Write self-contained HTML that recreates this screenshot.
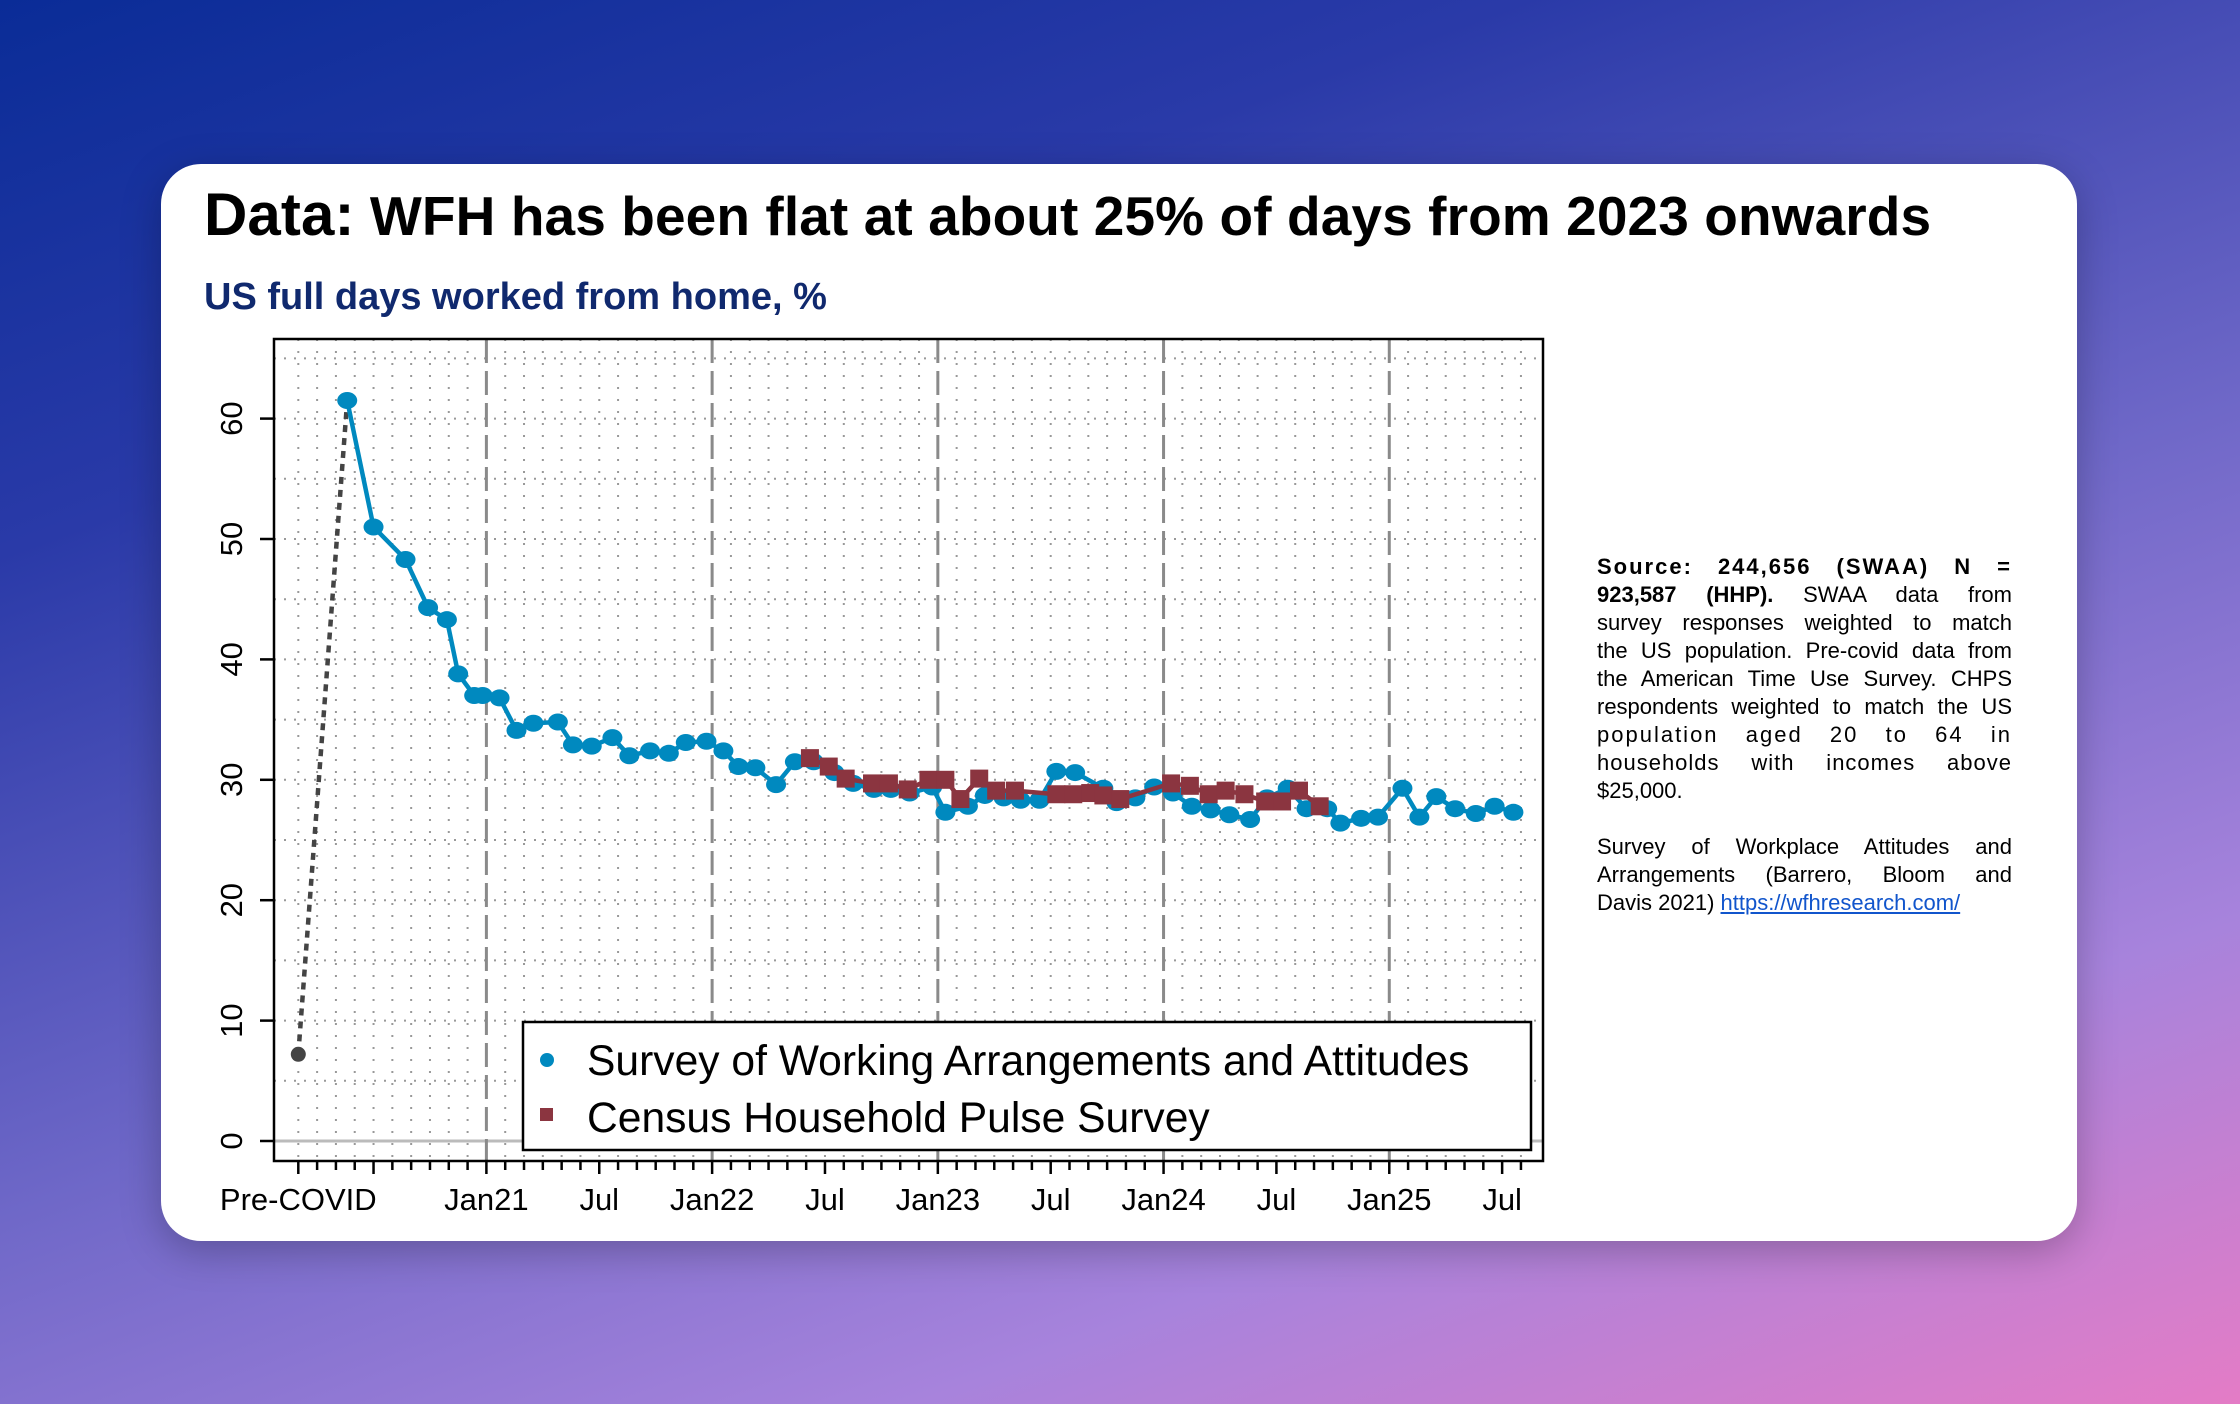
<!DOCTYPE html>
<html><head><meta charset="utf-8">
<style>
html,body{margin:0;padding:0;width:2240px;height:1404px;overflow:hidden;font-family:"Liberation Sans",Arial,sans-serif;}
body{background:linear-gradient(160deg,#0a2c97 0%,#2a3aa8 25%,#6f68c8 55%,#a783dc 78%,#e47cc6 100%);position:relative;}
#card{position:absolute;left:161px;top:164px;width:1916px;height:1077px;background:#fff;border-radius:40px;box-shadow:0 10px 40px rgba(0,0,0,0.25);}
#title{position:absolute;left:204px;top:180px;font-size:55px;font-weight:bold;color:#000;white-space:nowrap;letter-spacing:0.1px;}
#title .lead{font-size:60px;}
#subtitle{position:absolute;left:204px;top:276px;font-size:38px;font-weight:bold;color:#10296e;white-space:nowrap;}
#note{position:absolute;left:1597px;top:553px;width:415px;font-size:22px;line-height:28px;color:#000;}
#note div{text-align:justify;text-align-last:justify;white-space:nowrap;}
#note div.last{text-align-last:left;}
#note a{color:#1155cc;text-decoration:underline;}
svg{position:absolute;left:0;top:0;}
</style></head>
<body>
<div id="card"></div>
<div id="title"><span class="lead">Data:</span> WFH has been flat at about 25% of days from 2023 onwards</div>
<div id="subtitle">US full days worked from home, %</div>
<div id="note">
<div style="font-weight:bold;letter-spacing:2px;">Source: 244,656 (SWAA) N =</div>
<div><b>923,587 (HHP).</b> SWAA data from</div>
<div>survey responses weighted to match</div>
<div>the US population. Pre-covid data from</div>
<div>the American Time Use Survey. CHPS</div>
<div>respondents weighted to match the US</div>
<div style="letter-spacing:2px;">population aged 20 to 64 in</div>
<div style="letter-spacing:1px;">households with incomes above</div>
<div class="last">$25,000.</div>
<div class="last">&nbsp;</div>
<div>Survey of Workplace Attitudes and</div>
<div>Arrangements (Barrero, Bloom and</div>
<div class="last">Davis 2021) <a href="#">https://wfhresearch.com/</a></div>
</div>
<svg id="chart" width="2240" height="1404" viewBox="0 0 2240 1404"></svg>
<script>
// months since Jan 2020 (Jan21 = 12)
const preCovidMonth = [2];
const preCovidValue = [7.2];
const swaaMonths = [4.6,6.0,7.7,8.9,9.9,10.5,11.35,11.8,12.7,13.6,14.5,15.8,16.6,17.6,18.7,19.6,20.7,21.7,22.6,23.7,24.6,25.4,26.3,27.4,28.4,29.4,30.5,31.5,32.6,33.5,34.5,35.7,36.4,37.6,38.5,39.5,40.4,41.4,42.3,43.3,44.8,45.5,46.5,47.5,48.5,49.5,50.5,51.5,52.6,53.5,54.6,55.6,56.7,57.4,58.5,59.4,60.7,61.6,62.5,63.5,64.6,65.6,66.6];
const swaaValues = [61.5,51,48.3,44.3,43.3,38.8,37,37,36.8,34.1,34.7,34.8,32.9,32.8,33.5,32,32.4,32.2,33.1,33.2,32.4,31.1,31,29.6,31.5,31.5,30.6,29.7,29.2,29.2,28.9,29.4,27.3,27.8,28.7,28.5,28.3,28.3,30.7,30.6,29.3,28.1,28.5,29.4,28.9,27.8,27.5,27.1,26.7,28.5,29.3,27.6,27.6,26.4,26.8,26.9,29.3,26.9,28.6,27.6,27.2,27.8,27.3];
const hhpMonths = [29.2,30.2,31.1,32.5,33.4,34.4,35.5,36.4,37.2,38.2,39.1,40.1,42.3,43.2,44.1,44.8,45.7,48.4,49.4,50.4,51.3,52.3,53.4,54.3,55.2,56.3];
const hhpValues = [31.8,31.1,30.1,29.7,29.7,29.2,30.0,30.0,28.4,30.1,29.1,29.1,28.8,28.8,28.9,28.7,28.4,29.7,29.5,28.8,29.1,28.8,28.2,28.2,29.1,27.8];
const yTicks = [0,10,20,30,40,50,60];
const xLabelMonths = [2,12,18,24,30,36,42,48,54,60,66];
const xLabels = ["Pre-COVID","Jan21","Jul","Jan22","Jul","Jan23","Jul","Jan24","Jul","Jan25","Jul"];

const NS = "http://www.w3.org/2000/svg";
const svg = document.getElementById('chart');
const PL=274, PR=1543, PT=339, PB=1161;
const X = m => 486.4 + (m-12)*18.81;
const Y = v => 1141 - v*12.04;
function mk(tag, attrs, parent){const e=document.createElementNS(NS,tag);for(const k in attrs)e.setAttribute(k,attrs[k]);(parent||svg).appendChild(e);return e;}

const grid = mk('g',{});


for(let m=2;m<=67;m++){
  if(m%12===0) continue;
  mk('line',{x1:X(m),x2:X(m),y1:PT,y2:PB,stroke:'#999','stroke-width':2,'stroke-dasharray':'2 10'},grid);
}
for(let v=5;v<=65;v+=5){
  mk('line',{x1:PL,x2:PR,y1:Y(v),y2:Y(v),stroke:'#999','stroke-width':2,'stroke-dasharray':'2 8'},grid);
}
mk('line',{x1:PL,x2:PR,y1:Y(0),y2:Y(0),stroke:'#bbb','stroke-width':3},grid);
for(let m=12;m<=67;m+=12){
  const l=mk('line',{x1:X(m),x2:X(m),y1:PT,y2:PB,stroke:'#8a8a8a','stroke-width':3,'stroke-dasharray':'24 8'},grid);
  
  
}
const frame=mk('rect',{x:PL,y:PT,width:PR-PL,height:PB-PT,fill:'none',stroke:'#000','stroke-width':2.5});


for(let m=2;m<=67;m++){
  mk('line',{x1:X(m),x2:X(m),y1:PB,y2:PB+(m===2||m%6===0?13:9),stroke:'#000','stroke-width':2.5});
}
yTicks.forEach(v=>{
  mk('line',{x1:PL-14,x2:PL,y1:Y(v),y2:Y(v),stroke:'#000','stroke-width':2.5});
  const t=mk('text',{x:0,y:0,transform:`translate(242,${Y(v)}) rotate(-90)`,'text-anchor':'middle','font-size':31,fill:'#000','font-family':'Liberation Sans, Arial, sans-serif'});
  t.textContent=v;
  
  
});
xLabelMonths.forEach((m,i)=>{
  const t=mk('text',{x:X(m),y:1210,'text-anchor':'middle','font-size':31,fill:'#000','font-family':'Liberation Sans, Arial, sans-serif'});
  t.textContent=xLabels[i];
  
  
});
const link=mk('line',{x1:X(preCovidMonth[0]),y1:Y(preCovidValue[0]),x2:X(swaaMonths[0]),y2:Y(swaaValues[0]),stroke:'#444','stroke-width':4.5,'stroke-dasharray':'7 6'});


const pc=mk('circle',{cx:X(preCovidMonth[0]),cy:Y(preCovidValue[0]),r:7.5,fill:'#444'});


const sw=mk('polyline',{points:swaaMonths.map((m,i)=>X(m)+','+Y(swaaValues[i])).join(' '),fill:'none',stroke:'#0089bf','stroke-width':4.5,'stroke-linejoin':'round'});


swaaMonths.forEach((m,i)=>{
  const c=mk('ellipse',{cx:X(m),cy:Y(swaaValues[i]),rx:10,ry:8.5,fill:'#0089bf'});
  
  
});
const hh=mk('polyline',{points:hhpMonths.map((m,i)=>X(m)+','+Y(hhpValues[i])).join(' '),fill:'none',stroke:'#8b3540','stroke-width':4.5});


hhpMonths.forEach((m,i)=>{
  const r=mk('rect',{x:X(m)-9,y:Y(hhpValues[i])-9,width:18,height:18,fill:'#8b3540'});
  
  
});
const lg=mk('g',{});


mk('rect',{x:523,y:1022,width:1008,height:128,fill:'#fff',stroke:'#000','stroke-width':2.5},lg);
mk('circle',{cx:547,cy:1060,r:7,fill:'#0089bf'},lg);
mk('rect',{x:540,y:1108,width:13,height:13,fill:'#8b3540'},lg);
const t1=mk('text',{x:587,y:1075,'font-size':42.6,fill:'#000','font-family':'Liberation Sans, Arial, sans-serif'},lg);
t1.textContent='Survey of Working Arrangements and Attitudes';


const t2=mk('text',{x:587,y:1132,'font-size':42.6,fill:'#000','font-family':'Liberation Sans, Arial, sans-serif'},lg);
t2.textContent='Census Household Pulse Survey';


</script>
</body></html>
